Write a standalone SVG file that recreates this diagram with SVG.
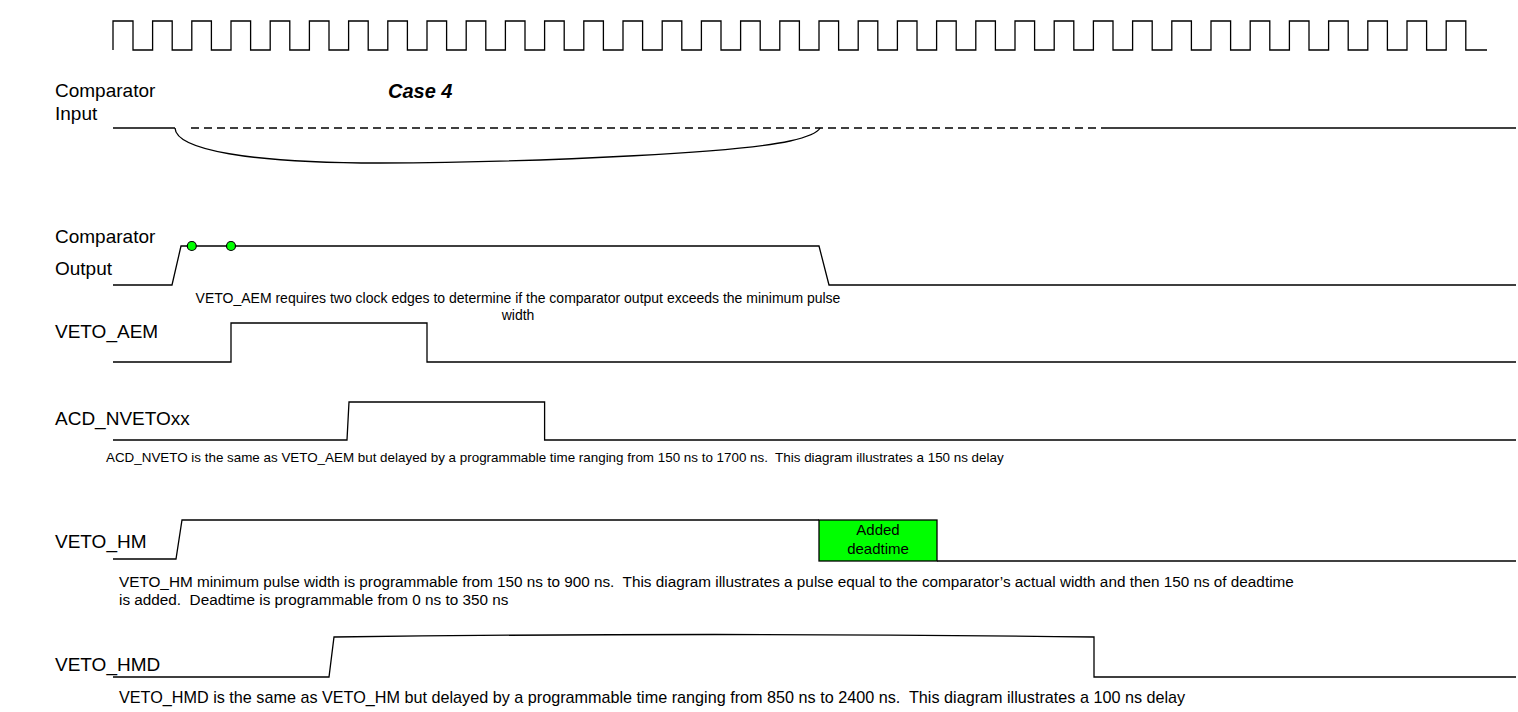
<svg xmlns="http://www.w3.org/2000/svg" width="1518" height="712" viewBox="0 0 1518 712">
<style>
.sig{fill:none;stroke:#000;stroke-width:1.3}
.lbl{font-family:"Liberation Sans",Arial,sans-serif;font-size:19px;fill:#000}
.note{font-family:"Liberation Sans",Arial,sans-serif;fill:#000;white-space:pre}
.dot{fill:#00ff00;stroke:#000;stroke-width:1.2}
</style>
<rect width="1518" height="712" fill="#fff"/>
<g id="clock">
<path class="sig" d="M113,50 V21 H133 V50 H152.6 V21 H172.2 V50 H191.8 V21 H211.4 V50 H231 V21 H250.6 V50 H270.2 V21 H289.8 V50 H309.4 V21 H329 V50 H348.6 V21 H368.2 V50 H387.8 V21 H407.4 V50 H427 V21 H446.6 V50 H466.2 V21 H485.8 V50 H505.4 V21 H525 V50 H544.6 V21 H564.2 V50 H583.8 V21 H603.4 V50 H623 V21 H642.6 V50 H662.2 V21 H681.8 V50 H701.4 V21 H721 V50 H740.6 V21 H760.2 V50 H779.8 V21 H799.4 V50 H819 V21 H838.6 V50 H858.2 V21 H877.8 V50 H897.4 V21 H917 V50 H936.6 V21 H956.2 V50 H975.8 V21 H995.4 V50 H1015 V21 H1034.6 V50 H1054.2 V21 H1073.8 V50 H1093.4 V21 H1113 V50 H1132.6 V21 H1152.2 V50 H1171.8 V21 H1191.4 V50 H1211 V21 H1230.6 V50 H1250.2 V21 H1269.8 V50 H1289.4 V21 H1309 V50 H1328.6 V21 H1348.2 V50 H1367.8 V21 H1387.4 V50 H1407 V21 H1426.6 V50 H1446.2 V21 H1465.8 V50 H1487"/>
</g>
<g id="comparator-input">
<text class="lbl" x="55" y="97">Comparator</text>
<text class="lbl" x="55" y="120">Input</text>
<text x="388" y="98" style="font-family:'Liberation Sans',Arial,sans-serif;font-size:20px;font-weight:bold;font-style:italic">Case 4</text>
<path class="sig" d="M113,128 H175"/>
<path class="sig" d="M175,128 C176,150 250,163 380,163 C560,162 740,152 790,141 C812,136 818,132 820,128"/>
<path class="sig" stroke-dasharray="8,5" d="M191,128 H1106"/>
<path class="sig" d="M1106,128 H1516"/>
</g>
<g id="comparator-output">
<text class="lbl" x="55" y="243">Comparator</text>
<text class="lbl" x="55" y="275">Output</text>
<path class="sig" d="M113,285 H172 L181,246 H819 L829,285 H1516"/>
<circle class="dot" cx="191.8" cy="246" r="4.5"/>
<circle class="dot" cx="231" cy="246" r="4.5"/>
<text class="note" font-size="14" text-anchor="middle" x="518" y="303">VETO_AEM requires two clock edges to determine if the comparator output exceeds the minimum pulse</text>
<text class="note" font-size="14" text-anchor="middle" x="518" y="320">width</text>
</g>
<g id="veto-aem">
<text class="lbl" x="55" y="338">VETO_AEM</text>
<path class="sig" d="M113,362 H231 V323 H427 V362 H1516"/>
</g>
<g id="acd-nvetoxx">
<text class="lbl" x="55" y="425">ACD_NVETOxx</text>
<path class="sig" d="M113,440 H347 L349,402 H544.6 V440 H1516"/>
<text class="note" font-size="13.4" x="106" y="462">ACD_NVETO is the same as VETO_AEM but delayed by a programmable time ranging from 150 ns to 1700 ns.  This diagram illustrates a 150 ns delay</text>
</g>
<g id="veto-hm">
<text class="lbl" x="55" y="548">VETO_HM</text>
<path class="sig" d="M113,559 H176 L182,520 H819"/>
<rect x="819" y="520" width="118" height="41" fill="#00ff00" stroke="#000" stroke-width="1.3"/>
<text class="note" font-size="15" text-anchor="middle" x="878" y="535">Added</text>
<text class="note" font-size="15" text-anchor="middle" x="878" y="554">deadtime</text>
<path class="sig" d="M937,561 H1516"/>
<text class="note" font-size="15.3" x="119" y="587">VETO_HM minimum pulse width is programmable from 150 ns to 900 ns.  This diagram illustrates a pulse equal to the comparator’s actual width and then 150 ns of deadtime</text>
<text class="note" font-size="15.3" x="119" y="605">is added.  Deadtime is programmable from 0 ns to 350 ns</text>
</g>
<g id="veto-hmd">
<text class="lbl" x="55" y="671">VETO_HMD</text>
<path class="sig" d="M113,677 H329 L334,637 Q715,632 1094,637 V677 H1516"/>
<text class="note" font-size="16.2" x="119" y="703">VETO_HMD is the same as VETO_HM but delayed by a programmable time ranging from 850 ns to 2400 ns.  This diagram illustrates a 100 ns delay</text>
</g>
</svg>
